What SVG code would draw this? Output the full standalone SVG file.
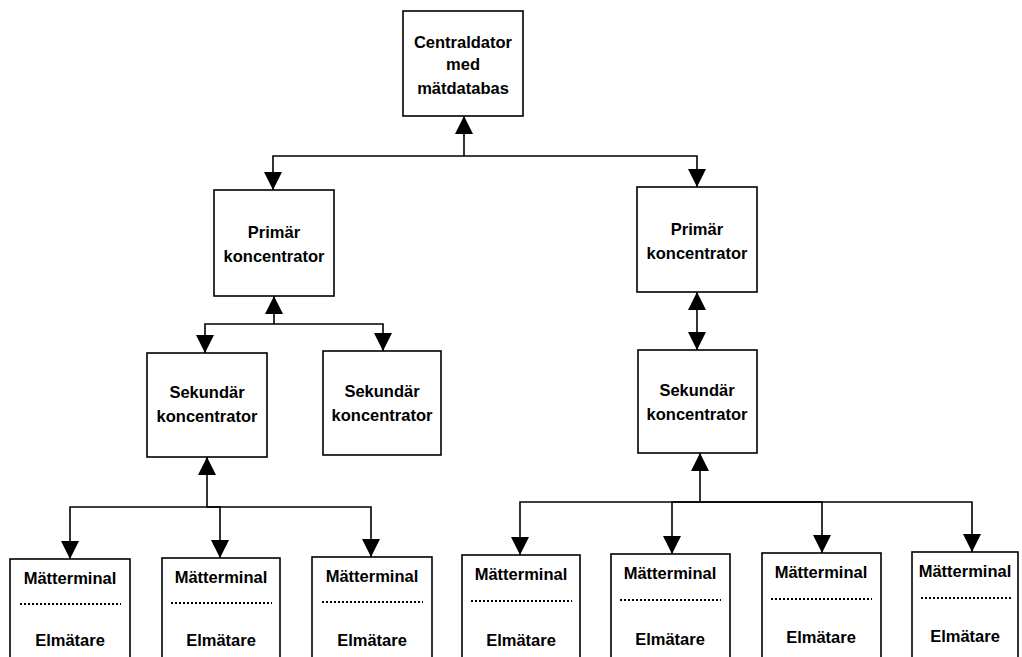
<svg xmlns="http://www.w3.org/2000/svg" width="1022" height="657" viewBox="0 0 1022 657">
<style>
.box{fill:#fff;stroke:#000;stroke-width:1.6}
.t{font-family:"Liberation Sans",Arial,sans-serif;font-weight:bold;font-size:16.5px;fill:#000;text-anchor:middle}
.c{fill:none;stroke:#000;stroke-width:1.6}
.dot{stroke:#000;stroke-width:2;stroke-dasharray:2 2}
</style>
<defs>
<marker id="ah" markerUnits="userSpaceOnUse" markerWidth="18" markerHeight="18" viewBox="0 0 16 16" refX="16" refY="8" orient="auto-start-reverse">
<path d="M0,0 L16,8 L0,16 Z" fill="#000"/>
</marker>
</defs>
<rect width="1022" height="657" fill="#fff"/>
<g id="connectors">
<path class="c" d="M464,156 V116" marker-end="url(#ah)"/>
<path class="c" d="M464,156 H273 V190" marker-end="url(#ah)"/>
<path class="c" d="M464,156 H697 V187" marker-end="url(#ah)"/>
<path class="c" d="M274,324 V296" marker-end="url(#ah)"/>
<path class="c" d="M274,324 H205 V353" marker-end="url(#ah)"/>
<path class="c" d="M274,324 H383 V351" marker-end="url(#ah)"/>
<path class="c" d="M697,292 V350" marker-start="url(#ah)" marker-end="url(#ah)"/>
<path class="c" d="M207,507 V457" marker-end="url(#ah)"/>
<path class="c" d="M207,507 H70 V559" marker-end="url(#ah)"/>
<path class="c" d="M207,507 H220 V558" marker-end="url(#ah)"/>
<path class="c" d="M207,507 H371 V557" marker-end="url(#ah)"/>
<path class="c" d="M700,502 V453" marker-end="url(#ah)"/>
<path class="c" d="M700,502 H520 V555" marker-end="url(#ah)"/>
<path class="c" d="M700,502 H672 V554" marker-end="url(#ah)"/>
<path class="c" d="M700,502 H822 V553" marker-end="url(#ah)"/>
<path class="c" d="M700,502 H972 V552" marker-end="url(#ah)"/>
</g>
<g id="central">
<rect class="box" x="403" y="11" width="120" height="105"/>
<text class="t" x="463" y="48">Centraldator</text>
<text class="t" x="463" y="70">med</text>
<text class="t" x="463" y="94">mätdatabas</text>
</g>
<g id="primar-left">
<rect class="box" x="214" y="190" width="120" height="106"/>
<text class="t" x="274" y="238">Primär</text>
<text class="t" x="274" y="262">koncentrator</text>
</g>
<g id="primar-right">
<rect class="box" x="637" y="187" width="120" height="105"/>
<text class="t" x="697" y="235">Primär</text>
<text class="t" x="697" y="259">koncentrator</text>
</g>
<g id="sekundar-left">
<rect class="box" x="147" y="353" width="120" height="104"/>
<text class="t" x="207" y="398">Sekundär</text>
<text class="t" x="207" y="422">koncentrator</text>
</g>
<g id="sekundar-mid">
<rect class="box" x="323" y="351" width="118" height="104"/>
<text class="t" x="382" y="397">Sekundär</text>
<text class="t" x="382" y="421">koncentrator</text>
</g>
<g id="sekundar-right">
<rect class="box" x="638" y="350" width="119" height="103"/>
<text class="t" x="697" y="396">Sekundär</text>
<text class="t" x="697" y="420">koncentrator</text>
</g>
<g id="mt1">
<rect class="box" x="10" y="559" width="120" height="110"/>
<text class="t" x="70" y="584">Mätterminal</text>
<line class="dot" x1="20" y1="604" x2="121" y2="604"/>
<text class="t" x="70" y="646">Elmätare</text>
</g>
<g id="mt2">
<rect class="box" x="162" y="558" width="118" height="110"/>
<text class="t" x="221" y="583">Mätterminal</text>
<line class="dot" x1="171" y1="603" x2="272" y2="603"/>
<text class="t" x="221" y="646">Elmätare</text>
</g>
<g id="mt3">
<rect class="box" x="312" y="557" width="120" height="110"/>
<text class="t" x="372" y="582">Mätterminal</text>
<line class="dot" x1="322" y1="602" x2="423" y2="602"/>
<text class="t" x="372" y="646">Elmätare</text>
</g>
<g id="mt4">
<rect class="box" x="462" y="555" width="118" height="110"/>
<text class="t" x="521" y="580">Mätterminal</text>
<line class="dot" x1="471" y1="601" x2="572" y2="601"/>
<text class="t" x="521" y="646">Elmätare</text>
</g>
<g id="mt5">
<rect class="box" x="611" y="554" width="119" height="110"/>
<text class="t" x="670" y="579">Mätterminal</text>
<line class="dot" x1="620" y1="600" x2="721" y2="600"/>
<text class="t" x="670" y="645">Elmätare</text>
</g>
<g id="mt6">
<rect class="box" x="762" y="553" width="119" height="110"/>
<text class="t" x="821" y="578">Mätterminal</text>
<line class="dot" x1="771" y1="599" x2="872" y2="599"/>
<text class="t" x="821" y="643">Elmätare</text>
</g>
<g id="mt7">
<rect class="box" x="912" y="552" width="106" height="110"/>
<text class="t" x="965" y="577">Mätterminal</text>
<line class="dot" x1="921" y1="598" x2="1012" y2="598"/>
<text class="t" x="965" y="642">Elmätare</text>
</g>
</svg>
